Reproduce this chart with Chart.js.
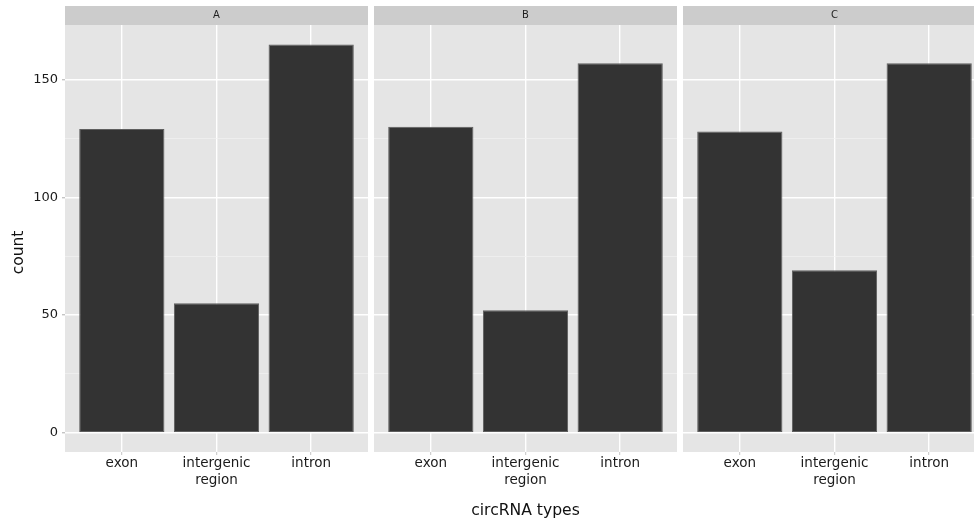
<!DOCTYPE html>
<html>
<head>
<meta charset="utf-8">
<title>circRNA types by group</title>
<script src="https://cdn.jsdelivr.net/npm/chart.js@4.4.1/dist/chart.umd.min.js"></script>
<style>
  html, body { margin: 0; padding: 0; background: #ffffff; overflow: hidden; }
  #wrap { position: relative; width: 974px; height: 519px; overflow: hidden; }
  #wrap canvas { position: absolute; top: 0; }
</style>
</head>
<body>
<div id="wrap">
  <canvas id="panelA" width="371" height="519" style="left:0px"></canvas>
  <canvas id="panelB" width="309" height="519" style="left:371px"></canvas>
  <canvas id="panelC" width="309" height="519" style="left:680px"></canvas>
</div>
<script>
// Category labels on the x axis (multi-line where needed)
const categories = ["exon", ["intergenic", "region"], "intron"];
// Facet names
const panels = ["A", "B", "C"];
// Counts per category, one array per facet
const countsA = [129, 55, 165];
const countsB = [130, 52, 157];
const countsC = [128, 69, 157];
// Major y tick values (labelled) and minor y grid values
const yMajorTicks = [0, 50, 100, 150];
const yMinorTicks = [25, 75, 125];
// Axis titles
const xTitle = "circRNA types";
const yTitle = "count";

const seriesByPanel = [countsA, countsB, countsC];

// Shared y range with 5% padding on both ends
const allCounts = countsA.concat(countsB, countsC);
const yTop = Math.max(...allCounts);
const yPad = yTop * 0.05;

const FONT = '"DejaVu Sans", Verdana, sans-serif';
Chart.defaults.font.family = FONT;
Chart.defaults.color = '#222222';

const PANEL_BG = '#e5e5e5';
const STRIP_BG = '#cccccc';

// Paints the grey panel background and the facet strip above it,
// and the rotated y title on the first panel
const facetPlugin = {
  id: 'facet',
  beforeDraw(chart, args, opts) {
    const { ctx, chartArea: a } = chart;
    ctx.save();
    ctx.fillStyle = PANEL_BG;
    ctx.fillRect(a.left, a.top, a.right - a.left, a.bottom - a.top);
    ctx.fillStyle = STRIP_BG;
    ctx.fillRect(a.left, a.top - 19, a.right - a.left, 19);
    ctx.fillStyle = '#1f1f1f';
    ctx.font = '10px ' + FONT;
    ctx.textAlign = 'center';
    ctx.textBaseline = 'middle';
    ctx.fillText(opts.label, (a.left + a.right) / 2, a.top - 9.5);
    if (opts.yTitle) {
      ctx.translate(19, a.top + (a.bottom - a.top) / 2 + 14);
      ctx.rotate(-Math.PI / 2);
      ctx.fillStyle = '#111111';
      ctx.font = '15.5px ' + FONT;
      ctx.fillText(opts.yTitle, 0, 0);
    }
    ctx.restore();
  }
};

function makePanel(canvasId, idx) {
  const first = idx === 0;
  const middle = idx === 1;
  const values = seriesByPanel[idx];
  const data = values.map((v, i) => ({ x: i + 1, y: v }));

  return new Chart(document.getElementById(canvasId), {
    type: 'bar',
    data: {
      datasets: [{
        data: data,
        backgroundColor: '#333333',
        borderColor: '#5e5e5e',
        borderWidth: 1,
        borderSkipped: false,
        barPercentage: 0.9,
        categoryPercentage: 1.0
      }]
    },
    plugins: [facetPlugin],
    options: {
      responsive: false,
      animation: false,
      events: [],
      layout: { padding: { left: first ? 0 : 3, right: 3, top: 25, bottom: 0 } },
      plugins: {
        legend: { display: false },
        tooltip: { enabled: false },
        facet: { label: panels[idx], yTitle: first ? yTitle : null }
      },
      scales: {
        x: {
          type: 'linear',
          min: 0.4,
          max: 3.6,
          offset: false,
          afterBuildTicks(scale) {
            scale.ticks = categories.map((c, i) => ({ value: i + 1 }));
          },
          afterFit(scale) { scale.height = 67; },
          ticks: {
            autoSkip: false,
            maxRotation: 0,
            padding: 0,
            color: '#1a1a1a',
            font: { size: 13.5, lineHeight: 1.25 },
            callback: (v) => categories[Math.round(v) - 1]
          },
          grid: {
            offset: false,
            color: '#ffffff',
            lineWidth: 1.4,
            tickColor: '#c4c4c4',
            tickLength: 3,
            tickWidth: 1
          },
          border: { display: false },
          title: {
            display: middle,
            text: xTitle,
            color: '#111111',
            font: { size: 15.6, lineHeight: 1.2 },
            padding: { top: 0, bottom: -1 }
          }
        },
        y: {
          type: 'linear',
          min: -yPad,
          max: yTop + yPad,
          afterBuildTicks(scale) {
            scale.ticks = yMajorTicks.concat(yMinorTicks)
              .sort((p, q) => p - q)
              .map(v => ({ value: v }));
          },
          afterFit(scale) { scale.width = first ? 65 : 0; },
          ticks: {
            display: first,
            padding: 4,
            color: '#1a1a1a',
            font: { size: 13 },
            callback: (v) => yMajorTicks.includes(v) ? String(v) : ''
          },
          grid: {
            drawTicks: first,
            tickLength: 3,
            color: (c) => yMajorTicks.includes(c.tick && c.tick.value) ? '#ffffff' : '#f2f2f2',
            lineWidth: (c) => yMajorTicks.includes(c.tick && c.tick.value) ? 1.4 : 0.7,
            tickColor: (c) => yMajorTicks.includes(c.tick && c.tick.value) ? '#c4c4c4' : 'rgba(0,0,0,0)'
          },
          border: { display: false },
          title: { display: false }
        }
      }
    }
  });
}

makePanel('panelA', 0);
makePanel('panelB', 1);
makePanel('panelC', 2);
</script>
</body>
</html>
